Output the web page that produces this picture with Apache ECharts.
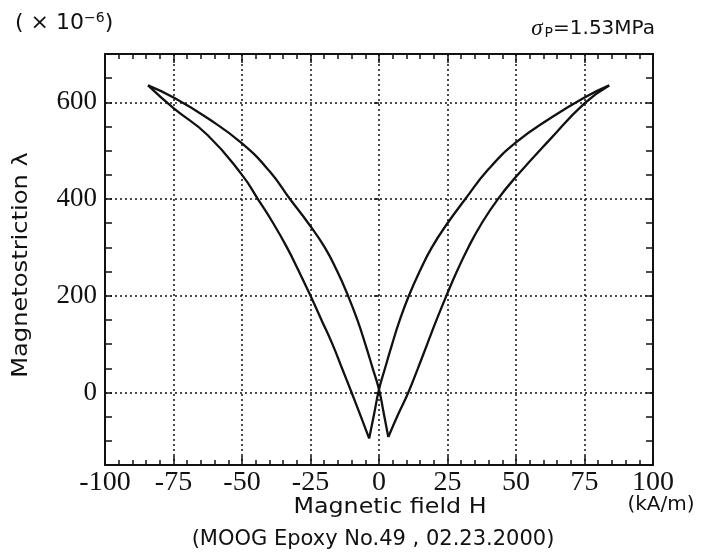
<!DOCTYPE html>
<html>
<head>
<meta charset="utf-8">
<script src="https://cdn.jsdelivr.net/npm/echarts@6/dist/echarts.min.js"></script>
<style>
  html, body { margin: 0; padding: 0; background: #fff; }
  #chart { width: 701px; height: 559px; }
</style>
</head>
<body>
<div id="chart"></div>
<script>
// Butterfly loop of magnetostriction vs. applied field, split into its four branches.
// Each point is [H (kA/m), lambda (x10^-6)].

// rising field, inner branch on the negative side, down to the cusp at +H
const risingInner = [
  [-84.3, 635], [-75, 610], [-62.5, 567], [-50, 515], [-40, 458], [-32.5, 400],
  [-25.8, 350], [-19.8, 300], [-15.2, 250], [-11.3, 200], [-7.9, 150], [-5, 100],
  [-2.3, 50], [0, 6], [1.8, -45], [3.4, -92]
];
// rising field, outer branch on the positive side, up to the positive tip
const risingOuter = [
  [3.4, -92], [7.0, -45], [10.7, 0], [14.2, 50], [17.6, 100], [21, 150],
  [24.6, 200], [28.4, 250], [32.6, 300], [37.5, 350], [43.4, 400], [50, 446],
  [62.5, 524], [75, 598], [84, 635]
];
// falling field, inner branch on the positive side, down to the cusp at -H
const fallingInner = [
  [84, 635], [75, 610], [62.5, 567], [50, 517], [40, 462], [31.5, 400],
  [25, 350], [19.3, 300], [14.8, 250], [10.9, 200], [7.6, 150], [4.8, 100],
  [2.2, 50], [0, 6], [-1.8, -45], [-3.6, -95]
];
// falling field, outer branch on the negative side, up to the negative tip
const fallingOuter = [
  [-3.6, -95], [-6.6, -50], [-10, 0], [-13.5, 50], [-17, 100], [-21, 150],
  [-25, 200], [-29.2, 250], [-33.6, 300], [-38.6, 350], [-44.2, 400], [-50, 450],
  [-62.5, 532], [-75, 588], [-84.3, 635]
];

// axis ranges and gridline levels
const xRange = [-100, 100];
const xStep = 25;
const yRange = [-150, 700];
const yStep = 50;
const yLabelStep = 200;
const yGridValues = [0, 200, 400, 600];

const ink = '#111';
const dotted = { color: ink, width: 1.5, type: [2, 3] };
const serif = '"Liberation Serif", "Times New Roman", serif';
const sans = '"DejaVu Sans", "Liberation Sans", sans-serif';

function xAxisDef(position, showLabels) {
  return {
    type: 'value', position: position,
    min: xRange[0], max: xRange[1], interval: xStep,
    axisLine: { show: true, onZero: false, lineStyle: { color: ink, width: 2 } },
    axisTick: { show: true, inside: true, length: 9, lineStyle: { color: ink, width: 1.5 } },
    minorTick: { show: true, splitNumber: 5, length: 5, lineStyle: { color: ink, width: 1.5 } },
    axisLabel: { show: showLabels, color: ink, fontFamily: serif, fontSize: 28, margin: 4 },
    splitLine: { show: showLabels, lineStyle: dotted }
  };
}

function yAxisDef(position, showLabels) {
  return {
    type: 'value', position: position,
    min: yRange[0], max: yRange[1], interval: yStep,
    axisLine: { show: true, onZero: false, lineStyle: { color: ink, width: 2 } },
    axisTick: { show: true, inside: true, length: 7, lineStyle: { color: ink, width: 1.5 } },
    axisLabel: {
      show: showLabels, color: ink, fontFamily: serif, fontSize: 27, margin: 8,
      formatter: function (v) { return v % yLabelStep === 0 ? String(v) : ''; }
    },
    splitLine: { show: false }
  };
}

// short outward ticks at the labelled levels of the left axis
const yOuterTicks = {
  type: 'value', position: 'left',
  min: yRange[0], max: yRange[1], interval: yStep,
  axisLine: { show: false },
  axisTick: { show: true, inside: false, length: 5, customValues: yGridValues, lineStyle: { color: ink, width: 1.5 } },
  axisLabel: { show: false },
  splitLine: { show: false }
};

function branch(data, z) {
  return {
    type: 'line', data: data, xAxisIndex: 0, yAxisIndex: 0,
    showSymbol: false, smooth: 0.5, z: z,
    lineStyle: { color: ink, width: 2.3 }
  };
}

const chart = echarts.init(document.getElementById('chart'), null, { renderer: 'canvas' });

chart.setOption({
  backgroundColor: '#fff',
  animation: false,
  grid: { left: 105, right: 48, top: 54, bottom: 94 },
  xAxis: [xAxisDef('bottom', true), xAxisDef('top', false)],
  yAxis: [yAxisDef('left', true), yAxisDef('right', false), yOuterTicks],
  series: [
    {
      type: 'line', data: [], xAxisIndex: 0, yAxisIndex: 0, z: 1,
      markLine: {
        silent: true, symbol: 'none', label: { show: false },
        lineStyle: dotted,
        data: yGridValues.map(function (v) { return { yAxis: v }; })
      }
    },
    branch(risingInner, 3),
    branch(risingOuter, 3),
    branch(fallingInner, 3),
    branch(fallingOuter, 3)
  ],
  graphic: [
    {
      type: 'text', left: 15, top: 11,
      style: {
        text: '( × 10{sup|−6})',
        font: '22px ' + sans, fill: ink,
        rich: { sup: { fontSize: 14, verticalAlign: 'top', padding: [0, 0, 10, 0], fontFamily: sans } }
      }
    },
    {
      type: 'text', right: 46, top: 17,
      style: {
        text: '{s|σ}{sub|P}=1.53MPa',
        font: '20px ' + sans, fill: ink,
        rich: {
          s: { fontSize: 23, fontStyle: 'italic', fontFamily: serif },
          sub: { fontSize: 14, padding: [10, 0, 0, 2], fontFamily: sans }
        }
      }
    },
    {
      type: 'text', x: 22, y: 265, rotation: Math.PI / 2, scaleX: 1.15,
      style: { text: 'Magnetostriction λ', font: '21px ' + sans, fill: ink, align: 'center', verticalAlign: 'middle' }
    },
    {
      type: 'text', x: 390, y: 507, scaleX: 1.08,
      style: { text: 'Magnetic field H', font: '22px ' + sans, fill: ink, align: 'center', verticalAlign: 'middle' }
    },
    {
      type: 'text', x: 661, y: 505,
      style: { text: '(kA/m)', font: '20px ' + sans, fill: ink, align: 'center', verticalAlign: 'middle' }
    },
    {
      type: 'text', x: 373, y: 540,
      style: { text: '(MOOG Epoxy No.49 , 02.23.2000)', font: '21px ' + sans, fill: ink, align: 'center', verticalAlign: 'middle' }
    }
  ]
});
</script>
</body>
</html>
